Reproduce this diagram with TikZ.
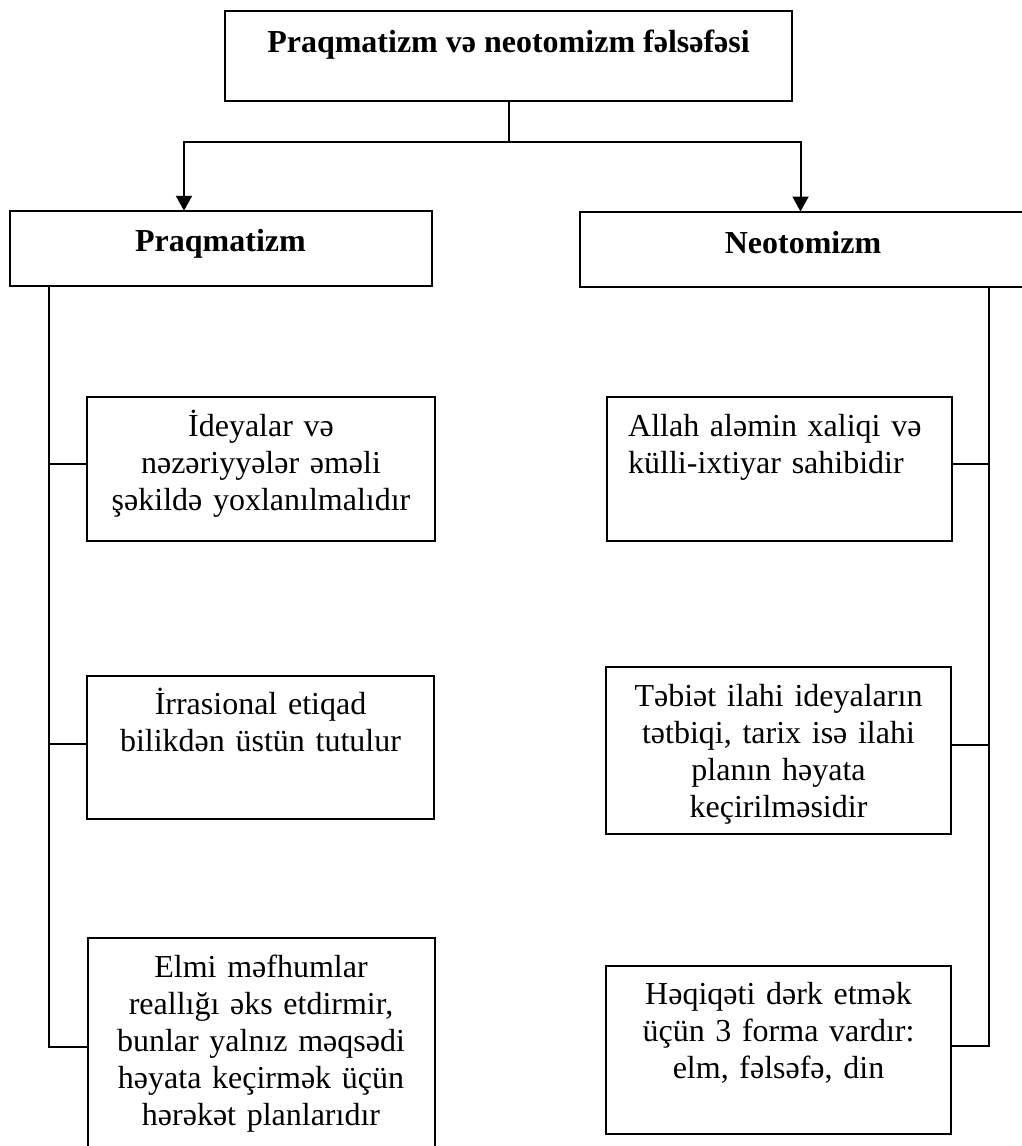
\documentclass[tikz,border=0pt]{standalone}
\usepackage{fontspec}
\setmainfont{Liberation Serif}
\usepackage{tikz}
\usetikzlibrary{arrows.meta,positioning}

\begin{document}
\begin{tikzpicture}[x=1pt, y=-1pt,
  box/.style={draw, line width=2pt, inner sep=0pt, outer sep=0pt},
  txt/.style={inner sep=0pt, font=\fontsize{32}{37}\selectfont, text width=330pt, align=center, anchor=base},
  head/.style={inner sep=0pt, font=\fontsize{32}{37}\selectfont\bfseries, anchor=base},
  link/.style={line width=2pt},
  arr/.style={link, -{Triangle[length=15pt, width=16pt]}}]
  \useasboundingbox (0,0) rectangle (1022,1146);
  % upper level
  \node[box, minimum width=567pt, minimum height=90pt] (phil) at (508.5,56) {};
  \node[head] (philt) at (508.5,52) {Praqmatizm və neotomizm fəlsəfəsi};
  \node[box, minimum width=422pt, minimum height=75.5pt] (praq) at (220.5,248.5) {};
  \node[head] (praqt) at (220.5,251.5) {Praqmatizm};
  \node[box, minimum width=447pt, minimum height=75pt] (neo) at (803,249) {};
  \node[head] (neot) at (803,253) {Neotomizm};
  % left column
  \node[box, minimum width=348pt, minimum height=144pt] (l1) at (261,469) {};
  \node[txt] (l1t) at (261,436) {İdeyalar və\\nəzəriyyələr əməli\\şəkildə yoxlanılmalıdır};
  \node[box, minimum width=347.5pt, minimum height=143.3pt] (l2) at (260.5,747.7) {};
  \node[txt] (l2t) at (260.5,714.5) {İrrasional etiqad\\bilikdən üstün tutulur};
  \node[box, minimum width=347pt, minimum height=217pt] (l3) at (261,1046.5) {};
  \node[txt] (l3t) at (261,977) {Elmi məfhumlar\\reallığı əks etdirmir,\\bunlar yalnız məqsədi\\həyata keçirmək üçün\\hərəkət planlarıdır};
  % right column
  \node[box, minimum width=345pt, minimum height=144pt] (r1) at (779,469) {};
  \node[txt, align=left, anchor=base west] (r1t) at (628,436) {Allah aləmin xaliqi və\\külli-ixtiyar sahibidir};
  \node[box, minimum width=345pt, minimum height=167pt] (r2) at (778.5,750.5) {};
  \node[txt] (r2t) at (778.5,706.5) {Təbiət ilahi ideyaların\\tətbiqi, tarix isə ilahi\\planın həyata\\keçirilməsidir};
  \node[box, minimum width=345pt, minimum height=168pt] (r3) at (778.5,1050) {};
  \node[txt] (r3t) at (778.5,1004) {Həqiqəti dərk etmək\\üçün 3 forma vardır:\\elm, fəlsəfə, din};
  % connectors
  \coordinate (split) at ([yshift=-41pt]phil.south);
  \draw[link] (phil.south) -- (split);
  \draw[arr] (split) -| ([xshift=-36.5pt]praq.north);
  \draw[arr] (split) -| ([xshift=-2.5pt]neo.north);
  \coordinate (lsp) at ([xshift=39pt]praq.south west);
  \coordinate (rsp) at ([xshift=-38pt]neo.south east);
  \coordinate (r3j) at ([yshift=4pt]r3.east);
  \draw[link] (lsp) |- (l3.west);
  \draw[link] (rsp) |- (r3j);
  \foreach \b/\s in {l1/5,l2/4}{
    \coordinate (\b j) at ([yshift=\s pt]\b.west);
    \draw[link] (\b j) -- (\b j -| lsp);
  }
  \foreach \b/\s in {r1/5,r2/6}{
    \coordinate (\b j) at ([yshift=\s pt]\b.east);
    \draw[link] (\b j) -- (\b j -| rsp);
  }
\end{tikzpicture}
\end{document}
